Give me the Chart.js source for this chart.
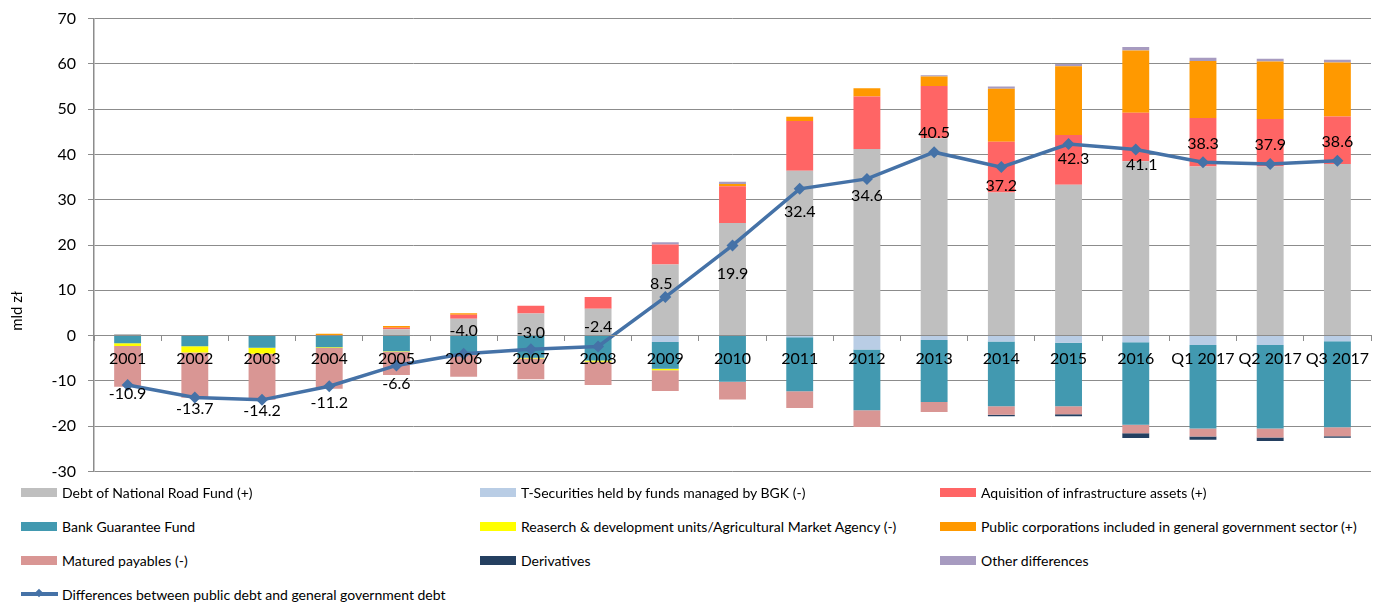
<!DOCTYPE html>
<html lang="en">
<head>
  <meta charset="UTF-8" />
  <title>Public debt vs general government debt</title>
  <script src="https://cdn.jsdelivr.net/npm/chart.js"></script>
  <style>
    body {
      margin: 0;
      background: #fff;
      font-family: Lato, sans-serif;
    }

    #wrap {
      position: relative;
      width: 1385px;
      height: 603px;
      overflow: hidden;
    }

    #debtChart {
      position: absolute;
      left: 0;
      top: -3px;
    }

    #legend .item {
      position: absolute;
      display: flex;
      align-items: center;
      height: 20px;
      font-size: 14px;
      color: #000;
      white-space: nowrap;
    }

    #legend .swatch {
      width: 36px;
      height: 9px;
      margin-right: 5px;
    }

    #legend svg {
      margin-right: 4px;
    }
  </style>
</head>
<body>
  <div id="wrap">
    <canvas id="debtChart" width="1385" height="496"></canvas>
    <div id="legend"></div>
  </div>

  <script>
    // categories
    const periods = ['2001', '2002', '2003', '2004', '2005', '2006', '2007', '2008', '2009', '2010',
      '2011', '2012', '2013', '2014', '2015', '2016', 'Q1 2017', 'Q2 2017', 'Q3 2017'];

    // components, bn zł
    const roadFund        = [0.35, 0, 0, 0, 1.4, 3.7, 4.85, 5.9, 15.7, 24.85, 36.4, 41.2, 43.6, 31.6, 33.3, 38.5, 37.35, 37.35, 37.9];
    const bgkSecurities   = [0, 0, 0, 0, 0, 0, 0, 0, -1.4, 0, -0.4, -3.1, -1.0, -1.3, -1.6, -1.5, -2.1, -2.1, -1.25];
    const infraAssets     = [0, 0, 0, 0, 0.3, 0.9, 1.75, 2.6, 4.4, 8.1, 11.0, 11.6, 11.5, 11.2, 11.0, 10.7, 10.7, 10.5, 10.5];
    const guaranteeFund   = [-1.7, -2.35, -2.7, -2.6, -3.45, -4.3, -4.9, -5.5, -5.95, -10.2, -11.9, -13.4, -13.7, -14.3, -14.0, -18.2, -18.4, -18.4, -19.0];
    const researchUnits   = [-0.6, -1.4, -1.3, -0.15, -0.15, 0, -0.15, -0.3, -0.3, 0, 0, 0, 0, 0, 0, 0, 0, 0, 0];
    const publicCorps     = [0, 0, 0, 0.4, 0.4, 0.35, 0, 0, 0, 0.5, 0.9, 1.8, 2.1, 11.7, 15.2, 13.75, 12.6, 12.65, 11.9];
    const maturedPayables = [-9.0, -10.0, -10.2, -9.0, -5.1, -4.8, -4.6, -5.1, -4.6, -3.9, -3.7, -3.7, -2.2, -1.9, -1.8, -1.9, -1.8, -2.0, -2.0];
    const derivatives     = [0, 0, 0, 0, 0, 0, 0, 0, 0, 0, 0, 0, 0, -0.3, -0.4, -1.0, -0.7, -0.8, -0.3];
    const otherDiff       = [0, 0, 0, 0, 0, 0, 0, 0, 0.5, 0.5, 0, 0, 0.3, 0.5, 0.5, 0.8, 0.7, 0.65, 0.6];

    // public debt minus general government debt
    const difference = [-10.9, -13.7, -14.2, -11.2, -6.6, -4.0, -3.0, -2.4, 8.5, 19.9, 32.4, 34.6, 40.5, 37.2, 42.3, 41.1, 38.3, 37.9, 38.6];

    // where each value label sits relative to its marker (px)
    const labelDy = [9, 11, 11, 17, 18, -23, -16, -20, -13, 28, 23, 17, -19, 19, 15, 15, -18, -19, -19];
    const labelDx = [0, 0, 0, 0, 0, 0, 0, 0, -4, 0, 0, 0, 0, 0, 5, 6, 0, 0, 0];

    const FONT = 'Lato, sans-serif';
    const LINE_BLUE = '#4572a7';
    const GRID = '#8c8c8c';

    function bar(label, data, color) {
      return { type: 'bar', label, data, backgroundColor: color, borderWidth: 0, order: 1 };
    }

    // value labels on the line + rotated y title
    const lineLabels = {
      id: 'lineLabels',
      afterDraw(chart) {
        const ctx = chart.ctx;
        const meta = chart.getDatasetMeta(chart.data.datasets.length - 1);
        ctx.save();
        ctx.font = '16px ' + FONT;
        ctx.fillStyle = '#000';
        ctx.textAlign = 'center';
        ctx.textBaseline = 'middle';
        meta.data.forEach((pt, i) => {
          ctx.fillText(difference[i].toFixed(1), pt.x + labelDx[i], pt.y + labelDy[i]);
        });
        ctx.font = '15px ' + FONT;
        ctx.translate(17, 314);
        ctx.rotate(-Math.PI / 2);
        ctx.fillText('mld zł', 0, 0);
        ctx.restore();
      }
    };

    const chart = new Chart(document.getElementById('debtChart'), {
      data: {
        labels: periods,
        datasets: [
          bar('Debt of National Road Fund (+)', roadFund, '#bfbfbf'),
          bar('T-Securities held by funds managed by BGK (-)', bgkSecurities, '#b9cde5'),
          bar('Aquisition of infrastructure assets (+)', infraAssets, '#ff6565'),
          bar('Bank Guarantee Fund', guaranteeFund, '#4299b0'),
          bar('Reaserch & development units/Agricultural Market Agency (-)', researchUnits, '#ffff00'),
          bar('Public corporations included in general government sector (+)', publicCorps, '#ff9900'),
          bar('Matured payables (-)', maturedPayables, '#d99694'),
          bar('Derivatives', derivatives, '#243f60'),
          bar('Other differences', otherDiff, '#a79bc0'),
          {
            type: 'line',
            label: 'Differences between public debt and general government debt',
            data: difference,
            borderColor: LINE_BLUE,
            backgroundColor: LINE_BLUE,
            borderWidth: 3.5,
            pointStyle: 'rectRot',
            pointRadius: 6,
            pointBorderWidth: 0,
            pointBackgroundColor: LINE_BLUE,
            tension: 0,
            order: 0
          }
        ]
      },
      options: {
        responsive: false,
        animation: false,
        layout: { padding: { left: 0, right: 14, top: 11, bottom: 10 } },
        datasets: {
          bar: { barPercentage: 0.4, categoryPercentage: 1 }
        },
        plugins: {
          legend: { display: false },
          tooltip: { enabled: false }
        },
        scales: {
          x: {
            stacked: true,
            position: { y: 0 },
            grid: { drawOnChartArea: false, offset: true, tickLength: 5, color: GRID },
            border: { color: GRID, width: 1, z: 1 },
            ticks: { z: 1, color: '#000', padding: 9, maxRotation: 0, autoSkip: false, font: { family: FONT, size: 16 } }
          },
          y: {
            stacked: true,
            min: -30,
            max: 70,
            afterFit(scale) { scale.width = 94; },
            grid: { color: GRID, tickLength: 6 },
            border: { color: GRID, width: 1.5 },
            ticks: { stepSize: 10, color: '#000', padding: 12, font: { family: FONT, size: 16 } }
          }
        }
      },
      plugins: [lineLabels]
    });

    // legend laid out in three columns under the chart
    const legendCols = [21, 480, 940];
    const legendRowTop = 482;
    const legendRowStep = 34;
    const legendBox = document.getElementById('legend');
    chart.data.datasets.forEach((ds, i) => {
      const item = document.createElement('div');
      item.className = 'item';
      item.style.left = legendCols[i % 3] + 'px';
      item.style.top = (legendRowTop + Math.floor(i / 3) * legendRowStep) + 'px';
      if (ds.type === 'line') {
        item.innerHTML =
          '<svg width="37" height="12"><line x1="0" y1="6" x2="37" y2="6" stroke="' + LINE_BLUE +
          '" stroke-width="4"/><rect x="15" y="2" width="6" height="6" fill="' + LINE_BLUE +
          '" transform="rotate(45 18 5)"/></svg>';
      } else {
        const sw = document.createElement('span');
        sw.className = 'swatch';
        sw.style.background = ds.backgroundColor;
        item.appendChild(sw);
      }
      item.appendChild(document.createTextNode(ds.label));
      legendBox.appendChild(item);
    });
  </script>
</body>
</html>
